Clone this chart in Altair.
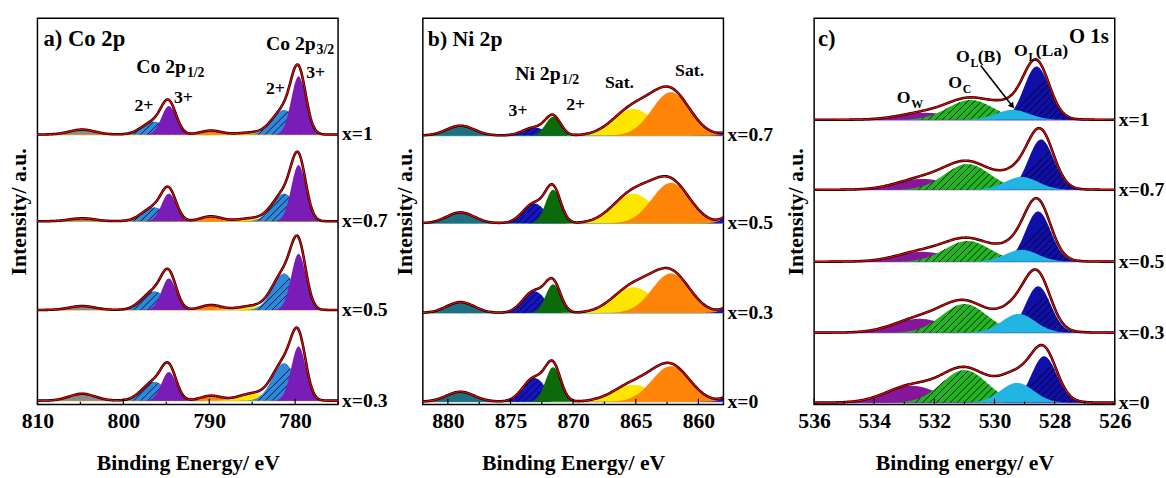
import numpy as np
import pandas as pd
import altair as alt

FONT = "Liberation Serif"
W, H = 305, 392

# ---------------- panel a : Co 2p ----------------
A_DOMAIN = [775, 810]
A_MAJOR = [810, 800, 790, 780]
A_MINOR = [805, 795, 785, 775]
A_SAMPLES = ["x=1", "x=0.7", "x=0.5", "x=0.3"]
A_BASE = [274, 186, 96, 4]
A_COMP = ["sat805", "sat790", "sat785", "Co2+ 2p1/2", "Co2+ 2p3/2", "Co3+ 2p1/2", "Co3+ 2p3/2"]
A_COLOR = ["#8a8a8a", "#f5880c", "#ffe600", "#2e88dc", "#2e88dc", "#7a1cb8", "#7a1cb8"]
A_CENTER = [804.8, 789.8, 785.0, 796.4, 781.3, 794.7, 779.6]
A_SIGMA = [1.5, 1.2, 1.6, 1.4, 1.35, 0.85, 0.85]
A_HATCH = [0, 0, 0, 1, 1, 0, 0]
A_HEIGHT = [
    [5, 4, 2, 13, 25, 29, 59],
    [3, 5, 3, 14, 28, 28, 57],
    [4, 5, 4, 19, 37, 32, 57],
    [7, 5, 7, 19, 38, 29, 55],
]

# ---------------- panel b : Ni 2p ----------------
B_DOMAIN = [858, 882]
B_MAJOR = [880, 875, 870, 865, 860]
B_MINOR = [877.5, 872.5, 867.5, 862.5]
B_SAMPLES = ["x=0.7", "x=0.5", "x=0.3", "x=0"]
B_BASE = [273, 184, 93, 3]
B_COMP = ["sat879", "Ni3+ 2p1/2", "Ni2+ 2p1/2", "sat865", "sat862", "edge"]
B_COLOR = ["#1f6f7e", "#1416c4", "#0b6b0b", "#ffe600", "#ff8408", "#1416c4"]
B_CENTER = [879.0, 873.1, 871.6, 865.2, 862.2, 857.5]
B_SIGMA = [1.1, 0.9, 0.6, 1.6, 1.5, 0.6]
B_HATCH = [0, 1, 0, 0, 0, 0]
B_HEIGHT = [
    [10, 8, 19, 27, 44, 3],
    [11, 20, 34, 30, 41, 7],
    [11, 22, 29, 26, 40, 6],
    [10, 24, 35, 17, 36, 5],
]

# ---------------- panel c : O 1s ----------------
C_DOMAIN = [526, 536]
C_MAJOR = [536, 534, 532, 530, 528, 526]
C_MINOR = [535, 533, 531, 529, 527]
C_SAMPLES = ["x=1", "x=0.7", "x=0.5", "x=0.3", "x=0"]
C_BASE = [289, 218, 145, 73, 2]
C_COMP = ["O_W", "O_C", "O_L(La)", "O_L(B)"]
C_COLOR = ["#86169a", "#22b422", "#1010a8", "#22b4e2"]
C_CENTER_BY_SAMPLE = [
    [532.3, 530.8, 528.6, 529.4],
    [532.4, 530.9, 528.45, 529.1],
    [532.4, 530.9, 528.55, 529.1],
    [532.5, 531.0, 528.55, 529.2],
    [532.75, 531.0, 528.35, 529.25],
]
C_SIGMA = [0.85, 0.75, 0.42, 0.55]
C_HATCH = [0, 1, 1, 0]
C_HEIGHT = [
    [7, 20, 54, 10],
    [11, 26, 51, 13],
    [10, 21, 51, 12],
    [14, 29, 47, 19],
    [17, 33, 47, 20],
]
C_EXTRA_CENTER = 529.2
C_EXTRA_SIGMA = 0.9
C_EXTRA_HEIGHT = [4, 6, 7, 8, 8]


def gauss(e, c, h, s):
    return h * np.exp(-((e - c) ** 2) / (2.0 * s * s))


def hatch_segments(c, h, s, base, k, spacing=7.0):
    segs = []
    e0 = c + 4.0 * s
    while e0 > c - 4.0 * s:
        t = 0.0
        dt = 0.004
        while True:
            t2 = t + dt
            if k * t2 > gauss(e0 - t2, c, h, s) or t2 > 15:
                break
            t = t2
        if k * t >= 2.0:
            segs.append((e0, base, e0 - t, base + k * t))
        e0 -= spacing / k
    return segs


def make_panel(domain, major, minor, samples, bases, colors, centers, sigmas,
               hatch, heights, step, base_color, xtitle, annotations,
               extra=None, arrow=None):
    lo, hi = domain
    k = W / (hi - lo)
    grid = np.round(np.arange(lo, hi + step / 2, step), 4)
    xs = alt.Scale(domain=[lo, hi], reverse=True, nice=False, zero=False)
    ys = alt.Scale(domain=[0, H], nice=False, zero=False)

    xaxis = alt.Axis(values=major, title=xtitle, format="d", tickSize=0,
                     domain=False, grid=False, labelFlush=False,
                     labelPadding=6, titlePadding=22,
                     labelFont=FONT, labelFontSize=22, labelFontWeight="bold",
                     titleFont=FONT, titleFontSize=22, titleFontWeight="bold",
                     labelColor="black", titleColor="black")
    yaxis = alt.Axis(title="Intensity/ a.u.", labels=False, ticks=False,
                     domain=False, grid=False, titlePadding=7,
                     titleFont=FONT, titleFontSize=22, titleFontWeight="bold",
                     titleColor="black")

    def X(f):
        return alt.X(f, scale=xs, axis=xaxis)

    def Y(f):
        return alt.Y(f, scale=ys, axis=yaxis)

    layers = []
    bdf = pd.DataFrame({"base": bases, "s": samples})
    layers.append(alt.Chart(bdf).mark_rule(color=base_color, strokeWidth=1.3)
                  .encode(y=Y("base:Q")))
    # sample labels to the right of the frame
    layers.append(alt.Chart(bdf).mark_text(font=FONT, fontWeight="bold", fontSize=20, color="black",
                                           align="left", baseline="middle")
                  .encode(y=Y("base:Q"), x=alt.value(W + 4), text="s:N"))

    env = {i: np.zeros_like(grid) for i in range(len(samples))}
    for j, col in enumerate(colors):
        rows = []
        segs = []
        for i, s in enumerate(samples):
            c = centers[i][j] if isinstance(centers[0], list) else centers[j]
            g = gauss(grid, c, heights[i][j], sigmas[j])
            env[i] = env[i] + g
            for e, v in zip(grid, g):
                rows.append({"e": e, "y0": bases[i], "y1": bases[i] + v, "s": s})
            if hatch[j]:
                segs += [dict(e0=a, y0=b, e1=cc, y1=d, s=s)
                         for a, b, cc, d in hatch_segments(c, heights[i][j], sigmas[j], bases[i], k)]
        df = pd.DataFrame(rows)
        layers.append(alt.Chart(df).mark_area(color=col, clip=True).encode(
            x=X("e:Q"), y=Y("y1:Q"), y2="y0:Q", detail="s:N"))
        if segs:
            hdf = pd.DataFrame(segs)
            layers.append(alt.Chart(hdf).mark_rule(color="black", strokeWidth=0.8, clip=True).encode(
                x=X("e0:Q"), x2="e1:Q", y=Y("y0:Q"), y2="y1:Q"))

    if extra is not None:
        ec, es, eh = extra
        for i in range(len(samples)):
            env[i] = env[i] + gauss(grid, ec, eh[i], es)

    erows = []
    for i, s in enumerate(samples):
        for e, v in zip(grid, env[i]):
            erows.append({"e": e, "y": bases[i] + v, "s": s})
    edf = pd.DataFrame(erows)
    layers.append(alt.Chart(edf).mark_line(color="black", strokeWidth=2.6, clip=True).encode(
        x=X("e:Q"), y=Y("y:Q"), detail="s:N"))
    layers.append(alt.Chart(edf).mark_line(color="#ff0000", strokeWidth=1.2, clip=True).encode(
        x=X("e:Q"), y=Y("y:Q"), detail="s:N"))

    # inward ticks
    tdf = pd.DataFrame({"t": major + minor, "len": [6] * len(major) + [3] * len(minor)})
    for ln in (6, 3):
        layers.append(alt.Chart(tdf[tdf["len"] == ln]).mark_rule(color="black", strokeWidth=1.2).encode(
            x=X("t:Q"), y=alt.value(H), y2=alt.value(H - ln)))

    # annotations
    adf = pd.DataFrame(annotations, columns=["t", "e", "y", "fs", "al"])
    for al in ("left", "center", "right"):
        sub = adf[adf["al"] == al]
        if len(sub) == 0:
            continue
        layers.append(alt.Chart(sub).mark_text(font=FONT, fontWeight="bold", color="black",
                                               align=al, baseline="middle").encode(
            x=X("e:Q"), y=Y("y:Q"),
            text="t:N", size=alt.Size("fs:Q", scale=None)))

    if arrow is not None:
        (e1, y1, e2, y2, ang) = arrow
        ardf = pd.DataFrame([{"e1": e1, "y1": y1, "e2": e2, "y2": y2, "ang": ang}])
        layers.append(alt.Chart(ardf).mark_rule(color="black", strokeWidth=1.6).encode(
            x=X("e1:Q"), x2="e2:Q", y=Y("y1:Q"), y2="y2:Q"))
        layers.append(alt.Chart(ardf).mark_point(shape="triangle-up", filled=True, color="black",
                                                 size=45, opacity=1).encode(
            x=X("e2:Q"), y=Y("y2:Q"),
            angle=alt.Angle("ang:Q", scale=None)))

    return alt.layer(*layers).properties(width=W, height=H)


A_ANN = [
    ["a) Co 2p", 809.3, 371, 23, "left"],
    ["Co 2p", 792.7, 342, 20, "right"],
    ["1/2", 792.6, 336, 14, "left"],
    ["Co 2p", 777.6, 366, 20, "right"],
    ["3/2", 777.5, 360, 14, "left"],
    ["2+", 797.6, 303, 18, "center"],
    ["3+", 793.0, 311, 18, "center"],
    ["2+", 782.3, 320, 18, "center"],
    ["3+", 777.6, 336, 18, "center"],
]
B_ANN = [
    ["b) Ni 2p", 881.6, 371, 22, "left"],
    ["Ni 2p", 871.0, 335, 20, "right"],
    ["1/2", 870.92, 329, 14, "left"],
    ["3+", 874.4, 298, 18, "center"],
    ["2+", 869.8, 304, 18, "center"],
    ["Sat.", 866.3, 326, 18, "center"],
    ["Sat.", 860.7, 338, 18, "center"],
]
C_ANN = [
    ["c)", 535.87, 371, 23, "left"],
    ["O 1s", 526.2, 373, 21, "right"],
    ["O", 528.89, 359, 18, "right"],
    ["L", 528.87, 353, 12, "left"],
    ["(La)", 528.63, 359, 18, "left"],
    ["O", 530.82, 353, 18, "right"],
    ["L", 530.80, 347, 12, "left"],
    ["(B)", 530.56, 353, 18, "left"],
    ["O", 531.08, 326, 18, "right"],
    ["C", 531.06, 320, 12, "left"],
    ["O", 532.79, 311, 18, "right"],
    ["W", 532.77, 305, 12, "left"],
]
C_ARROW = (530.46, 344, 529.41, 303, 142)

pa = make_panel(A_DOMAIN, A_MAJOR, A_MINOR, A_SAMPLES, A_BASE, A_COLOR, A_CENTER, A_SIGMA,
                A_HATCH, A_HEIGHT, 0.1, "#f0a020", "Binding Energy/ eV", A_ANN)
pb = make_panel(B_DOMAIN, B_MAJOR, B_MINOR, B_SAMPLES, B_BASE, B_COLOR, B_CENTER, B_SIGMA,
                B_HATCH, B_HEIGHT, 0.08, "#3a9aa0", "Binding Energy/ eV", B_ANN)
pc = make_panel(C_DOMAIN, C_MAJOR, C_MINOR, C_SAMPLES, C_BASE, C_COLOR, C_CENTER_BY_SAMPLE, C_SIGMA,
                C_HATCH, C_HEIGHT, 0.03, "#7a3ad0", "Binding energy/ eV", C_ANN,
                extra=(C_EXTRA_CENTER, C_EXTRA_SIGMA, C_EXTRA_HEIGHT), arrow=C_ARROW)

chart = alt.hconcat(alt.hconcat(pa, pb, spacing=3), pc, spacing=9).properties(
    padding={"left": 7, "top": 14, "right": 0, "bottom": 0},
    background="white",
).configure(font=FONT).configure_view(stroke="black", strokeWidth=1.5)

chart.save("out.html", embed_options={"renderer": "svg", "actions": False})
